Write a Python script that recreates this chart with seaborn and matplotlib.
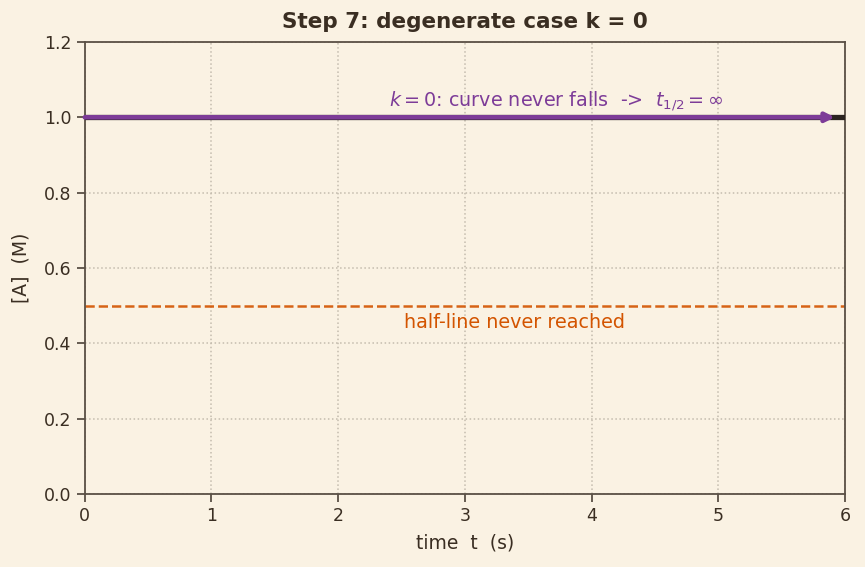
import numpy as np
import pandas as pd
import matplotlib.pyplot as plt
import seaborn as sns

# data
t_s = [0, 1, 2, 3, 4, 5, 6]
conc_M = [1.0, 1.0, 1.0, 1.0, 1.0, 1.0, 1.0]
half_line = 0.5
x_ticks = [0, 1, 2, 3, 4, 5, 6]
y_ticks = [0.0, 0.2, 0.4, 0.6, 0.8, 1.0, 1.2]

bg = '#faf2e3'
ink = '#3a2e22'
purple = '#7d3c98'
orange = '#d35400'

sns.set_theme(style='ticks')
plt.rcParams['font.family'] = ['DejaVu Sans']

df = pd.DataFrame({'t': t_s, 'A': conc_M})

fig, ax = plt.subplots(figsize=(8.65, 5.67), dpi=100)
fig.patch.set_facecolor(bg)
ax.set_facecolor(bg)

sns.lineplot(data=df, x='t', y='A', ax=ax, color='#2b2420', lw=3.8, zorder=3)
ax.axhline(half_line, color=orange, ls='--', lw=1.8, zorder=2, alpha=0.9)

# purple arrow along the flat curve
ax.annotate('', xy=(5.92, conc_M[-1]), xytext=(t_s[0], conc_M[0]),
            arrowprops=dict(arrowstyle='-|>', color=purple, lw=3.3,
                            mutation_scale=13, shrinkA=0, shrinkB=0),
            zorder=4)
ax.text(3.72, 1.012, r'$k=0$: curve never falls  ->  $t_{1/2}=\infty$',
        color=purple, fontsize=13.8, ha='center', va='bottom')
ax.text(3.39, 0.456, 'half-line never reached', color=orange,
        fontsize=13.8, ha='center', va='center')

ax.set_xlim(0, 6)
ax.set_ylim(0, 1.2)
ax.set_xticks(x_ticks)
ax.set_yticks(y_ticks)
ax.grid(True, ls=':', color='#c4bcae', lw=1.1)
ax.set_axisbelow(True)
for s in ax.spines.values():
    s.set_color('#5a5045')
    s.set_linewidth(1.3)
ax.tick_params(colors=ink, labelsize=12.5, color='#5a5045', length=6, width=1.3)
ax.set_xlabel('time  t  (s)', fontsize=13.5, color=ink, labelpad=6)
ax.set_ylabel('[A]  (M)', fontsize=13.5, color=ink, labelpad=10)
ax.set_title('Step 7: degenerate case k = 0', fontsize=15.5, fontweight='bold',
             color=ink, pad=10)

plt.subplots_adjust(left=0.098, right=0.977, top=0.926, bottom=0.129)
plt.savefig('out.png', dpi=100, facecolor=bg)
